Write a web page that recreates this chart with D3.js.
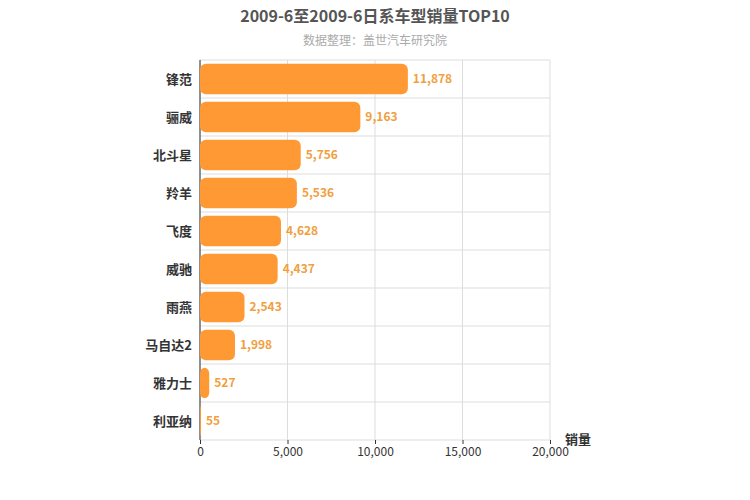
<!DOCTYPE html>
<html><head><meta charset="utf-8">
<script src="https://cdn.jsdelivr.net/npm/d3@7"></script>
<style>body{margin:0;background:#fff}text{font-family:"Noto Sans CJK SC","DejaVu Sans",sans-serif}</style>
</head><body><svg id="c" width="750" height="500"></svg>
<script>
const categories=["锋范","骊威","北斗星","羚羊","飞度","威驰","雨燕","马自达2","雅力士","利亚纳"];
const values=[11878,9163,5756,5536,4628,4437,2543,1998,527,55];
const ticks=[0,5000,10000,15000,20000];
const svg=d3.select("#c");
const m={l:200,r:550,t:60,b:440};
const x=d3.scaleLinear().domain([0,20000]).range([m.l,m.r]);
const y=d3.scaleBand().domain(categories).range([m.t,m.b]).paddingInner(0.2).paddingOuter(0.1);
const yb=d3.scaleBand().domain(categories).range([m.t,m.b]);
const g=svg.append("g");
// grid
g.selectAll(".gv").data(ticks).join("line").attr("x1",d=>x(d)).attr("x2",d=>x(d)).attr("y1",m.t).attr("y2",m.b).attr("stroke","#ddd");
g.selectAll(".gh").data(categories).join("line").attr("x1",m.l).attr("x2",m.r).attr("y1",d=>yb(d)).attr("y2",d=>yb(d)).attr("stroke","#ddd");
g.append("line").attr("x1",m.l).attr("x2",m.r).attr("y1",m.b).attr("y2",m.b).attr("stroke","#ddd");
g.append("line").attr("x1",m.l).attr("x2",m.l).attr("y1",m.t).attr("y2",m.b).attr("stroke","#333");
const xa=svg.append("g").attr("transform",`translate(0,${m.b})`).call(d3.axisBottom(x).tickValues(ticks).tickFormat(d3.format(",")).tickSize(4));
xa.select(".domain").remove();
xa.selectAll("text").attr("font-size",12).attr("fill","#333");
xa.selectAll("line").attr("stroke","#333");
svg.selectAll(".bar").data(values).join("rect")
 .attr("x",m.l).attr("y",(d,i)=>y(categories[i])).attr("width",d=>Math.max(0,x(d)-m.l)).attr("height",y.bandwidth())
 .attr("rx",6).attr("fill","#ff9933");
svg.selectAll(".lbl").data(values).join("text").attr("x",d=>x(d)+5).attr("y",(d,i)=>yb(categories[i])+yb.bandwidth()/2+4)
 .attr("font-size",12).attr("font-weight","bold").attr("fill","#f0a040").text(d=>d3.format(",")(d));
svg.selectAll(".cat").data(categories).join("text").attr("x",m.l-8).attr("y",d=>yb(d)+yb.bandwidth()/2+5)
 .attr("text-anchor","end").attr("font-size",13).attr("font-weight","bold").attr("fill","#333").text(d=>d);
svg.append("text").attr("x",375).attr("y",22).attr("text-anchor","middle").attr("font-size",16).attr("font-weight","bold").attr("fill","#555").text("2009-6至2009-6日系车型销量TOP10");
svg.append("text").attr("x",375).attr("y",45).attr("text-anchor","middle").attr("font-size",12).attr("fill","#aaa").text("数据整理：盖世汽车研究院");
svg.append("text").attr("x",565).attr("y",444).attr("font-size",13).attr("font-weight","bold").attr("fill","#333").text("销量");
</script></body></html>
